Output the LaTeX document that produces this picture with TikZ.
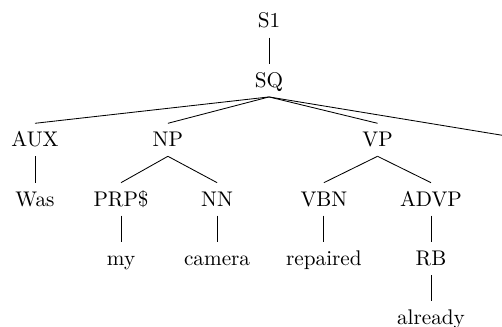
\documentclass[tikz,border=0pt]{standalone}
\usepackage{tikz}
\usetikzlibrary{positioning}

\begin{document}
\begin{tikzpicture}[-,auto,node distance=28pt,on grid,
  every node/.style={text height=7.5pt,text depth=1pt}]
  \useasboundingbox (0,0) rectangle (236.8pt,-154.2pt);
  \clip (0,0) rectangle (236.8pt,-154.2pt);
  \node (S1) [anchor=base] at (126.9pt,-13.2pt) {S1};
  \node (SQ) [below=of S1] {SQ};
  \node (AUX) [below left=28pt and 110.4pt of SQ] {AUX};
  \node (NP) [below left=28pt and 47.7pt of SQ] {NP};
  \node (VP) [below right=28pt and 51.2pt of SQ] {VP};
  \coordinate [below right=27.2pt and 118.1pt of SQ] (punct);
  %
  \node (Was) [below=of AUX] {Was};
  \node (PRP) [below left=28pt and 22.1pt of NP] {PRP\$};
  \node (NN) [below right=28pt and 23.2pt of NP] {NN};
  \node (VBN) [below left=28pt and 25.3pt of VP] {VBN};
  \node (ADVP) [below right=28pt and 25.2pt of VP] {ADVP};
  \node (my) [below=of PRP] {my};
  \node (camera) [below=of NN] {camera};
  \node (repaired) [below=of VBN] {repaired};
  \node (RB) [below=of ADVP] {RB};
  \node (already) [below=of RB] {already};
\path (S1) edge (SQ)
      (SQ.south) edge (AUX.north)
      (SQ.south) edge (NP.north)
      (SQ.south) edge (VP.north)
      (SQ.south) edge (punct)
      (AUX) edge (Was)
      (NP.south) edge (PRP.north)
      (NP.south) edge (NN.north)
      (PRP) edge (my)
      (NN) edge (camera)
      (VP.south) edge (VBN.north)
      (VP.south) edge (ADVP.north)
      (VBN) edge (repaired)
      (ADVP) edge (RB)
      (RB) edge (already);
\end{tikzpicture}
\end{document}
